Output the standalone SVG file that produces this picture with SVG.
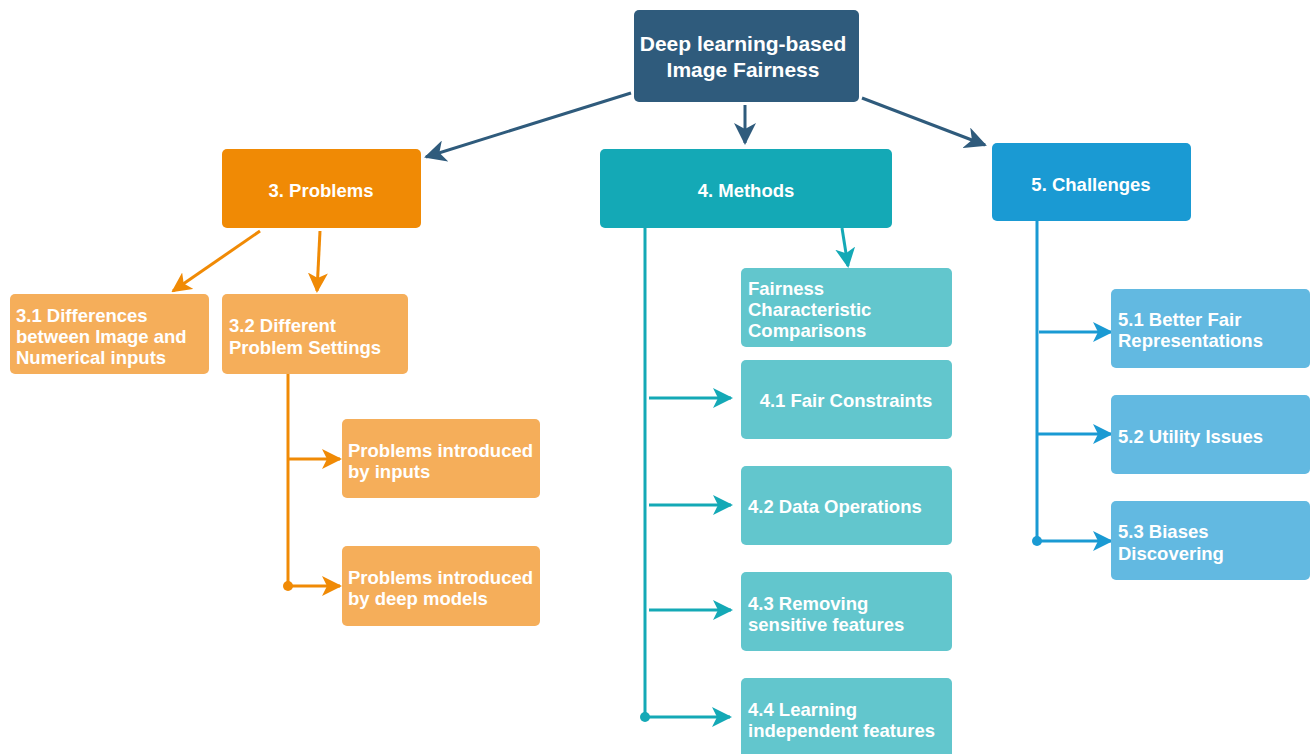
<svg xmlns="http://www.w3.org/2000/svg" width="1311" height="754" viewBox="0 0 1311 754">
<style>
text{font-family:"Liberation Sans",Arial,sans-serif;font-weight:bold;fill:#fff}
.t{font-size:21px}
.s{font-size:18.5px}
.c{text-anchor:middle}
.ln{fill:none;stroke-width:3}
</style>
<defs>
<marker id="aD" markerUnits="userSpaceOnUse" markerWidth="22" markerHeight="22" refX="20" refY="11" orient="auto"><path d="M0,0 L22,11 L0,22 L6,11 z" fill="#2F5B7C"/></marker>
<marker id="aO" markerUnits="userSpaceOnUse" markerWidth="20" markerHeight="20" refX="18" refY="10" orient="auto"><path d="M0,0 L20,10 L0,20 L5,10 z" fill="#F08A05"/></marker>
<marker id="aT" markerUnits="userSpaceOnUse" markerWidth="20" markerHeight="20" refX="18" refY="10" orient="auto"><path d="M0,0 L20,10 L0,20 L5,10 z" fill="#14A9B6"/></marker>
<marker id="aB" markerUnits="userSpaceOnUse" markerWidth="20" markerHeight="20" refX="18" refY="10" orient="auto"><path d="M0,0 L20,10 L0,20 L5,10 z" fill="#1A9AD3"/></marker>
</defs>
<g id="connectors">
<path class="ln" stroke="#2F5B7C" d="M631,93 L426,157" marker-end="url(#aD)"/>
<path class="ln" stroke="#2F5B7C" d="M745,105 L745,143" marker-end="url(#aD)"/>
<path class="ln" stroke="#2F5B7C" d="M862,98 L985,145" marker-end="url(#aD)"/>
<path class="ln" stroke="#F08A05" d="M260,231 L173,291" marker-end="url(#aO)"/>
<path class="ln" stroke="#F08A05" d="M320,231 L317,291" marker-end="url(#aO)"/>
<path class="ln" stroke="#F08A05" d="M288,374 L288,586"/>
<path class="ln" stroke="#F08A05" d="M288,459 L340,459" marker-end="url(#aO)"/>
<path class="ln" stroke="#F08A05" d="M288,586 L340,586" marker-end="url(#aO)"/>
<circle cx="288" cy="586" r="5" fill="#F08A05"/>
<path class="ln" stroke="#14A9B6" d="M842,228 L848,266" marker-end="url(#aT)"/>
<path class="ln" stroke="#14A9B6" d="M645,228 L645,717"/>
<path class="ln" stroke="#14A9B6" d="M649,398 L731,398" marker-end="url(#aT)"/>
<path class="ln" stroke="#14A9B6" d="M649,505 L731,505" marker-end="url(#aT)"/>
<path class="ln" stroke="#14A9B6" d="M649,610 L731,610" marker-end="url(#aT)"/>
<path class="ln" stroke="#14A9B6" d="M645,717 L730,717" marker-end="url(#aT)"/>
<circle cx="645" cy="717" r="5" fill="#14A9B6"/>
<path class="ln" stroke="#1A9AD3" d="M1037,221 L1037,541"/>
<path class="ln" stroke="#1A9AD3" d="M1039,332 L1111,332" marker-end="url(#aB)"/>
<path class="ln" stroke="#1A9AD3" d="M1037,434 L1111,434" marker-end="url(#aB)"/>
<path class="ln" stroke="#1A9AD3" d="M1037,541 L1111,541" marker-end="url(#aB)"/>
<circle cx="1037" cy="541" r="5" fill="#1A9AD3"/>
</g>
<g id="root"><rect x="634" y="10" width="225" height="92" rx="5" fill="#2F5B7C"/><text class="t c" x="743" y="50.5">Deep learning-based</text><text class="t c" x="743" y="76.5">Image Fairness</text></g>
<g id="problems"><rect x="222" y="149" width="199" height="79" rx="5" fill="#F08A05"/><text class="s c" x="321" y="196.5">3. Problems</text></g>
<g id="methods"><rect x="600" y="149" width="292" height="79" rx="5" fill="#14A9B6"/><text class="s c" x="746" y="196.5">4. Methods</text></g>
<g id="challenges"><rect x="992" y="143" width="199" height="78" rx="5" fill="#1A9AD3"/><text class="s c" x="1091" y="190.5">5. Challenges</text></g>
<g id="p31"><rect x="10" y="294" width="199" height="80" rx="5" fill="#F5AE5A"/><text class="s" x="16" y="321.5">3.1 Differences</text><text class="s" x="16" y="342.5">between Image and</text><text class="s" x="16" y="363.5">Numerical inputs</text></g>
<g id="p32"><rect x="222" y="294" width="186" height="80" rx="5" fill="#F5AE5A"/><text class="s" x="229" y="331.5">3.2 Different</text><text class="s" x="229" y="353.5">Problem Settings</text></g>
<g id="p_inputs"><rect x="342" y="419" width="198" height="79" rx="5" fill="#F5AE5A"/><text class="s" x="348" y="456.5">Problems introduced</text><text class="s" x="348" y="477.5">by inputs</text></g>
<g id="p_models"><rect x="342" y="546" width="198" height="80" rx="5" fill="#F5AE5A"/><text class="s" x="348" y="583.5">Problems introduced</text><text class="s" x="348" y="604.5">by deep models</text></g>
<g id="m_fcc"><rect x="741" y="268" width="211" height="79" rx="5" fill="#62C6CD"/><text class="s" x="748" y="294.5">Fairness</text><text class="s" x="748" y="315.5">Characteristic</text><text class="s" x="748" y="336.5">Comparisons</text></g>
<g id="m41"><rect x="741" y="360" width="211" height="79" rx="5" fill="#62C6CD"/><text class="s c" x="846" y="406.5">4.1 Fair Constraints</text></g>
<g id="m42"><rect x="741" y="466" width="211" height="79" rx="5" fill="#62C6CD"/><text class="s" x="748" y="512.5">4.2 Data Operations</text></g>
<g id="m43"><rect x="741" y="572" width="211" height="79" rx="5" fill="#62C6CD"/><text class="s" x="748" y="609.5">4.3 Removing</text><text class="s" x="748" y="630.5">sensitive features</text></g>
<g id="m44"><rect x="741" y="678" width="211" height="82" rx="5" fill="#62C6CD"/><text class="s" x="748" y="715.5">4.4 Learning</text><text class="s" x="748" y="736.5">independent features</text></g>
<g id="c51"><rect x="1111" y="289" width="199" height="79" rx="5" fill="#62B9E1"/><text class="s" x="1118" y="325.5">5.1 Better Fair</text><text class="s" x="1118" y="346.5">Representations</text></g>
<g id="c52"><rect x="1111" y="395" width="199" height="79" rx="5" fill="#62B9E1"/><text class="s" x="1118" y="442.5">5.2 Utility Issues</text></g>
<g id="c53"><rect x="1111" y="501" width="199" height="79" rx="5" fill="#62B9E1"/><text class="s" x="1118" y="537.5">5.3 Biases</text><text class="s" x="1118" y="559.5">Discovering</text></g>
</svg>
